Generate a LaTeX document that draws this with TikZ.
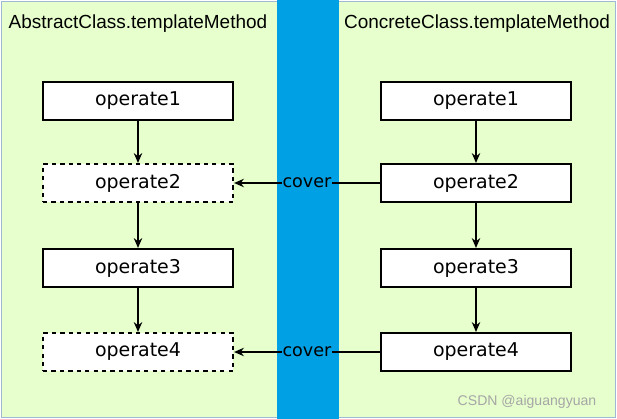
\documentclass[tikz,border=0pt]{standalone}
\usepackage{fontspec}
\setmainfont{Liberation Sans}
\newfontfamily\boxfont{DejaVu Sans}
\usetikzlibrary{arrows.meta}
\definecolor{panelgreen}{HTML}{E6FFCC}
\definecolor{stripblue}{HTML}{00A0E4}
\definecolor{edgeblue}{HTML}{9FB8D6}
\tikzset{
  opbox/.style={draw, line width=1.5pt, fill=white, minimum width=4.75cm, minimum height=0.95cm, font=\boxfont\fontsize{13.5}{16}\selectfont},
  hidden/.style={opbox, dashed},
  flow/.style={-{Stealth[length=7pt,width=6pt]}, line width=1pt},
  title/.style={font=\fontsize{13.5}{16}\selectfont}
}
\begin{document}
\begin{tikzpicture}[x=0.025cm, y=-0.025cm]
  \useasboundingbox (0,0) rectangle (617,419);

  % panels and the strip between them
  \fill[panelgreen] (2,2) rectangle (615,417);
  \draw[edgeblue, line width=0.6pt] (1,1) rectangle (615,417);
  \fill[stripblue] (277,0) rectangle (339,419);

  % abstract class
  \node[title] (atitle) at (138,24) {AbstractClass.templateMethod};
  \node[opbox]  (a1) at (138,101) {operate1};
  \node[hidden] (a2) at (138,183) {operate2};
  \node[opbox]  (a3) at (138,268) {operate3};
  \node[hidden] (a4) at (138,352) {operate4};
  \draw[flow] (a1) -- (a2);
  \draw[flow] (a2) -- (a3);
  \draw[flow] (a3) -- (a4);

  % concrete class
  \node[title] (ctitle) at (477,24) {ConcreteClass.templateMethod};
  \node[opbox] (c1) at (476,101) {operate1};
  \node[opbox] (c2) at (476,183) {operate2};
  \node[opbox] (c3) at (476,268) {operate3};
  \node[opbox] (c4) at (476,352) {operate4};
  \draw[flow] (c1) -- (c2);
  \draw[flow] (c2) -- (c3);
  \draw[flow] (c3) -- (c4);

  % overriding
  \draw[flow] (c2) -- node[fill=stripblue, inner sep=0.5pt, font=\boxfont\fontsize{12.5}{14}\selectfont] (cover1) {cover} (a2);
  \draw[flow] (c4) -- node[fill=stripblue, inner sep=0.5pt, font=\boxfont\fontsize{12.5}{14}\selectfont] (cover2) {cover} (a4);

  \node[gray!70, font=\fontsize{10}{12}\selectfont] (mark) at (527,402) {CSDN @aiguangyuan};
\end{tikzpicture}
\end{document}
